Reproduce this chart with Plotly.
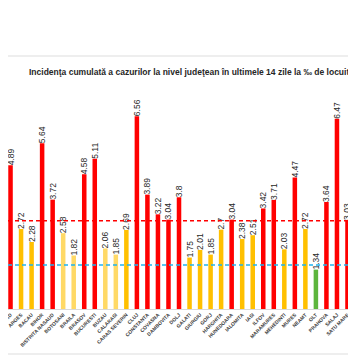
import plotly.graph_objects as go

judete = ["ALBA", "ARAD", "ARGES", "BACAU", "BIHOR", "BISTRITA NASAUD", "BOTOSANI",
          "BRAILA", "BRASOV", "BUCURESTI", "BUZAU", "CALARASI", "CARAS SEVERIN", "CLUJ",
          "CONSTANTA", "COVASNA", "DAMBOVITA", "DOLJ", "GALATI", "GIURGIU", "GORJ",
          "HARGHITA", "HUNEDOARA", "IALOMITA", "IASI", "ILFOV", "MARAMURES", "MEHEDINTI",
          "MURES", "NEAMT", "OLT", "PRAHOVA", "SALAJ", "SATU MARE", "SIBIU"]
incidenta = [5.43, 4.89, 2.72, 2.28, 5.64, 3.72, 2.58, 1.82, 4.58, 5.11, 2.06, 1.85,
             2.69, 6.56, 3.89, 3.22, 3.04, 3.8, 1.75, 2.01, 1.85, 2.7, 3.04, 2.38, 2.51,
             3.42, 3.71, 2.03, 4.47, 2.72, 1.34, 3.64, 6.47, 3.03, 7.4]
# colour group per county: r = red, o = orange-yellow, l = light yellow, g = green
grupe = ["r", "r", "o", "o", "r", "r", "l", "l", "r", "r", "l", "l", "o", "r",
         "r", "r", "r", "r", "o", "o", "o", "o", "r", "o", "o", "r", "r", "o",
         "r", "o", "g", "r", "r", "r", "r"]
prag_rosu = 3.0
prag_albastru = 1.5
titlu = "Incidenţa cumulată a cazurilor la nivel judeţean în ultimele 14 zile la ‰ de locuitori"

paleta = {"r": "#FF0000", "o": "#FFC000", "l": "#FFD966", "g": "#5DB53D"}
culori = [paleta[g] for g in grupe]

OFF = 8                      # page body margin
W, H = 356 - OFF, 364 - OFF
top = 85 - OFF
base = 309 - OFF
bottom = H - base
plot_h = base - top
px_per_cat = 10.53
x0 = OFF / px_per_cat

fig = go.Figure(go.Bar(
    x=judete, y=incidenta,
    marker=dict(color=culori, line=dict(width=0)),
    text=[f"{v:g}" for v in incidenta],
    textposition="outside", textangle=-90, constraintext="none",
    textfont=dict(family="Liberation Sans", size=8.5, color="#262626"),
    cliponaxis=True,
))

def py(page_y):
    return (base - (page_y - OFF)) / plot_h

def px(page_x):
    return (page_x - OFF) / W

fig.update_layout(
    width=W, height=H,
    margin=dict(l=0, r=0, t=top, b=bottom, pad=0, autoexpand=False),
    plot_bgcolor="white", paper_bgcolor="white",
    bargap=0.57, showlegend=False,
    xaxis=dict(range=[x0, x0 + W / px_per_cat], tickangle=-45, automargin=False,
               tickfont=dict(family="Liberation Sans", size=5, color="#404040", weight="bold"),
               showline=True, linecolor="#D9D9D9", linewidth=1, ticks="",
               showgrid=False, zeroline=False),
    yaxis=dict(range=[0, plot_h / 29.4], visible=False, showgrid=False, zeroline=False,
               automargin=False),
    shapes=[
        dict(type="line", xref="paper", yref="y", x0=0, x1=1, y0=prag_rosu, y1=prag_rosu,
             line=dict(color="#FF0000", width=1.5, dash="4px,3px"), layer="above"),
        dict(type="line", xref="paper", yref="y", x0=0, x1=1, y0=prag_albastru, y1=prag_albastru,
             line=dict(color="#1FB4F0", width=1.5, dash="4px,3px"), layer="above"),
        dict(type="line", xref="paper", yref="paper", x0=0, x1=1, y0=py(56), y1=py(56),
             line=dict(color="#DDDDDD", width=1)),
        dict(type="line", xref="paper", yref="paper", x0=0, x1=1, y0=py(354), y1=py(354),
             line=dict(color="#DDDDDD", width=1)),
    ],
    annotations=[dict(text="<b>" + titlu + "</b>", xref="paper", yref="paper",
                      x=px(27), y=py(72), xanchor="left", yanchor="middle",
                      showarrow=False,
                      font=dict(family="Liberation Sans", size=8.5, color="#262626"))],
)

fig.write_html("out.html")
